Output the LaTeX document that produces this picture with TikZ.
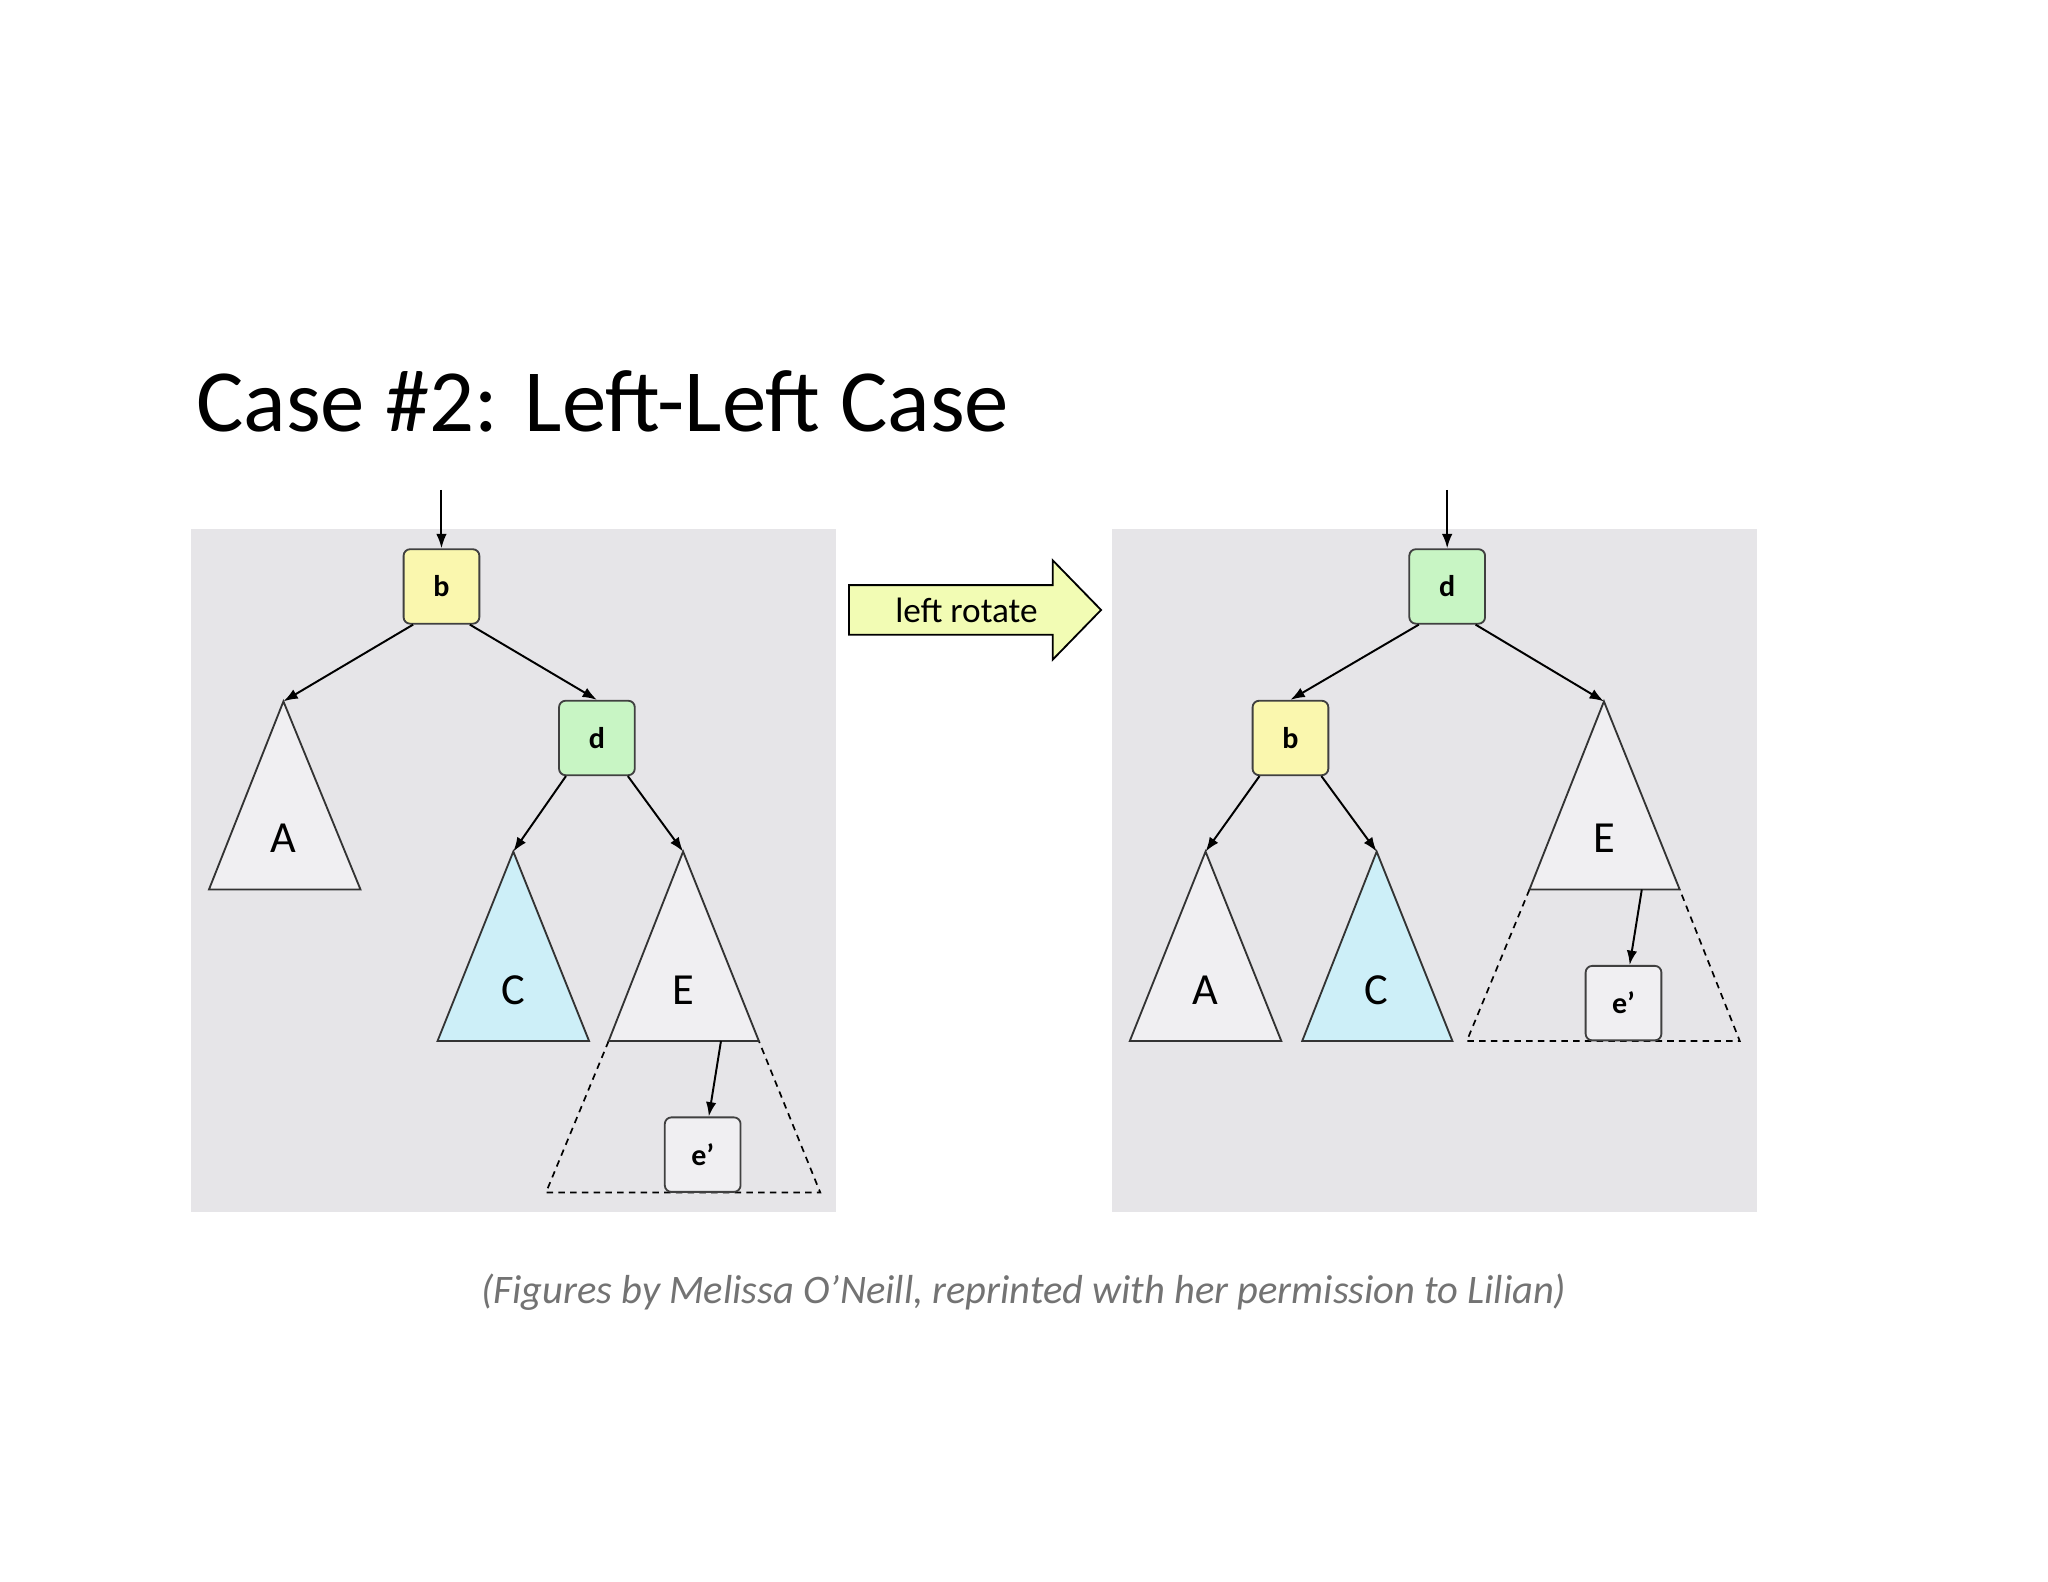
\documentclass[tikz,border=0pt]{standalone}
\usepackage{fontspec}
\setmainfont{Carlito}
\newfontfamily\nodefont{PT Sans Narrow}
\usetikzlibrary{arrows.meta,shapes.arrows}
\definecolor{panel}{HTML}{E6E5E8}
\definecolor{yel}{HTML}{FAF7AE}
\definecolor{grn}{HTML}{C8F5C4}
\definecolor{blu}{HTML}{CDEFF8}
\definecolor{tri}{HTML}{F0EFF2}
\definecolor{arr}{HTML}{F2FCB4}
\tikzset{
 key/.style={draw=black!75,line width=1.4pt,rounded corners=5pt,minimum width=58pt,minimum height=57pt,font=\bfseries\fontsize{23}{25}\selectfont},
 tribox/.style={draw=black!80,line width=1.4pt,fill=tri},
 lbl/.style={font=\fontsize{34}{36}\selectfont},
 edge/.style={line width=1.5pt,-{Latex[length=11pt,width=8pt]}},
 dsh/.style={line width=1.3pt,dashed,dash pattern=on 5pt off 4pt}
}
\begin{document}
\begin{tikzpicture}[x=1pt,y=-1pt]
\useasboundingbox[fill=white] (0,0) rectangle (1568,1211);
\node[anchor=base west,font=\fontsize{68}{70}\selectfont,inner sep=0] (title) at (150,330) {Case \#2: Left-Left Case};
\fill[panel] (146,405) rectangle (640,928);
\fill[panel] (851,405) rectangle (1345,928);
% left tree
\coordinate (lin) at (338,375);
\node[key,fill=yel] (lb) at (338,449) {b};
\node[key,fill=grn] (ld) at (457,565) {d};
\coordinate (lA) at (217,537);
\coordinate (lC) at (393,652);
\coordinate (lE) at (523,652);
\draw[dsh] (466,797) -- (418,913) -- (628,913) -- (581,797);
\draw[tribox] (lA) -- (160,681) -- (276,681) -- cycle;
\draw[tribox,fill=blu] (lC) -- (335,797) -- (451,797) -- cycle;
\draw[tribox] (lE) -- (466,797) -- (581,797) -- cycle;
\node[lbl] at (217,642) {A};
\node[lbl] at (393,758) {C};
\node[lbl] at (523,758) {E};
\coordinate (lEb) at (552,797);
\node[key,fill=tri] (le) at (538,884) {e'};
\draw[edge] (lin) -- (lb);
\draw[edge] (lb.south west) ++(8,0) -- (lA);
\draw[edge] (lb.south east) ++(-8,0) -- (ld.north);
\draw[edge] (ld.south west) ++(6,0) -- (lC);
\draw[edge] (ld.south east) ++(-6,0) -- (lE);
\draw[edge] (lEb) -- (le);
% right tree
\coordinate (rin) at (1108,375);
\node[key,fill=grn] (rd) at (1108,449) {d};
\node[key,fill=yel] (rb) at (988,565) {b};
\coordinate (rE) at (1228,537);
\coordinate (rA) at (923,652);
\coordinate (rC) at (1054,652);
\draw[dsh] (1171,681) -- (1123,797) -- (1332,797) -- (1286,681);
\draw[tribox] (rE) -- (1171,681) -- (1286,681) -- cycle;
\draw[tribox] (rA) -- (865,797) -- (981,797) -- cycle;
\draw[tribox,fill=blu] (rC) -- (997,797) -- (1112,797) -- cycle;
\node[lbl] at (1228,642) {E};
\node[lbl] at (923,758) {A};
\node[lbl] at (1054,758) {C};
\coordinate (rEb) at (1257,681);
\node[key,fill=tri] (re) at (1243,768) {e'};
\draw[edge] (rin) -- (rd);
\draw[edge] (rd.south west) ++(8,0) -- (rb.north);
\draw[edge] (rd.south east) ++(-8,0) -- (rE);
\draw[edge] (rb.south west) ++(6,0) -- (rA);
\draw[edge] (rb.south east) ++(-6,0) -- (rC);
\draw[edge] (rEb) -- (re);
% big arrow
\draw[fill=arr,line width=1.4pt] (650,448) -- (806,448) -- (806,429) -- (843,467) -- (806,505) -- (806,486) -- (650,486) -- cycle;
\node[font=\fontsize{27}{29}\selectfont] (rot) at (740,467) {left rotate};
\node[font=\itshape\fontsize{31}{33}\selectfont,text=black!55] (cap) at (784,989) {(Figures by Melissa O’Neill, reprinted with her permission to Lilian)};
\end{tikzpicture}
\end{document}
